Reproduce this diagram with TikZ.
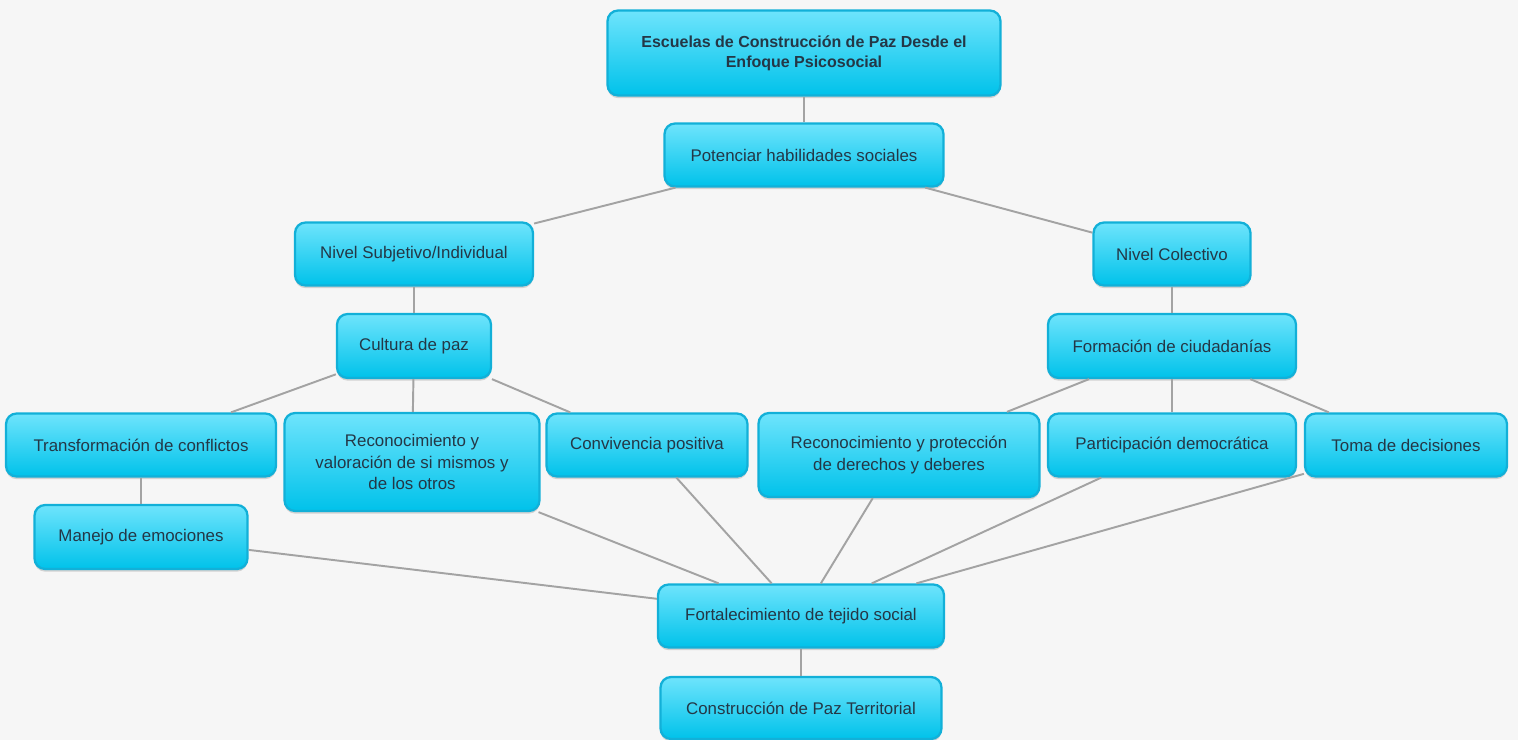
\documentclass[tikz,border=0pt]{standalone}
\usepackage{fontspec}
\setmainfont{Liberation Sans}
\usetikzlibrary{shadows}
\definecolor{boxtop}{HTML}{6EE4FC}
\definecolor{boxbot}{HTML}{00C2EA}
\definecolor{boxline}{HTML}{12B0D8}
\definecolor{boxtext}{HTML}{243746}
\definecolor{linkgray}{HTML}{A3A3A3}
\definecolor{paper}{HTML}{F6F6F6}
\tikzset{
	idea/.style={draw=boxline, line width=1.3pt, rounded corners=6pt, top color=boxtop, bottom color=boxbot,
		text=boxtext, align=center, inner sep=0pt, font=\fontsize{9.6}{12.2}\selectfont,
		drop shadow={shadow xshift=0pt, shadow yshift=-1.5pt, opacity=0.3}},
	link/.style={draw=linkgray, line width=1.1pt}
}
\begin{document}
\begin{tikzpicture}[x=0.02cm, y=-0.02cm]
		%background
		\fill[paper] (0,0) rectangle (1518,740);
		\useasboundingbox (0,0) rectangle (1518,740);
		
		%top
		\node[idea, minimum width=7.86cm, minimum height=1.7cm, font=\fontsize{9.1}{11.5}\selectfont\bfseries] (title) at (804,53)
			{Escuelas de Construcción de Paz Desde el\\Enfoque Psicosocial};
		\node[idea, minimum width=5.58cm, minimum height=1.26cm] (pot) at (804,155) {Potenciar habilidades sociales};
		
		%levels
		\node[idea, minimum width=4.76cm, minimum height=1.26cm] (subj) at (414,254) {Nivel Subjetivo/Individual};
		\node[idea, minimum width=3.14cm, minimum height=1.26cm] (colec) at (1172,254) {Nivel Colectivo};
		\node[idea, minimum width=3.08cm, minimum height=1.28cm] (cult) at (414,346) {Cultura de paz};
		\node[idea, minimum width=4.96cm, minimum height=1.28cm] (form) at (1172,346) {Formación de ciudadanías};
		
		%left branch
		\node[idea, minimum width=5.4cm, minimum height=1.26cm] (trans) at (141,445) {Transformación de conflictos};
		\node[idea, minimum width=5.1cm, minimum height=1.96cm] (valor) at (412,462)
			{Reconocimiento y\\valoración de si mismos y\\de los otros};
		\node[idea, minimum width=4.02cm, minimum height=1.26cm] (conv) at (647,445) {Convivencia positiva};
		\node[idea, minimum width=4.26cm, minimum height=1.28cm] (emoc) at (141,537) {Manejo de emociones};
		
		%right branch
		\node[idea, minimum width=5.62cm, minimum height=1.68cm] (derech) at (899,455)
			{Reconocimiento y protección\\de derechos y deberes};
		\node[idea, minimum width=4.96cm, minimum height=1.26cm] (partic) at (1172,445) {Participación democrática};
		\node[idea, minimum width=4.04cm, minimum height=1.26cm] (toma) at (1406,445) {Toma de decisiones};
		
		%bottom
		\node[idea, minimum width=5.72cm, minimum height=1.26cm] (tejido) at (801,616) {Fortalecimiento de tejido social};
		\node[idea, minimum width=5.62cm, minimum height=1.24cm] (terr) at (801,708) {Construcción de Paz Territorial};
		
		%links
		\draw[link] (title) -- (pot);
		\draw[link] (pot) -- (subj);
		\draw[link] (pot) -- (colec);
		\draw[link] (subj) -- (cult);
		\draw[link] (colec) -- (form);
		\foreach \n in {trans, valor, conv}{
			\draw[link] (cult) -- (\n);
		}
		\foreach \n in {derech, partic, toma}{
			\draw[link] (form) -- (\n);
		}
		\draw[link] (trans) -- (emoc);
		\foreach \n in {emoc, valor, conv, derech, partic, toma}{
			\draw[link] (\n) -- (tejido);
		}
		\draw[link] (tejido) -- (terr);
\end{tikzpicture}
\end{document}
